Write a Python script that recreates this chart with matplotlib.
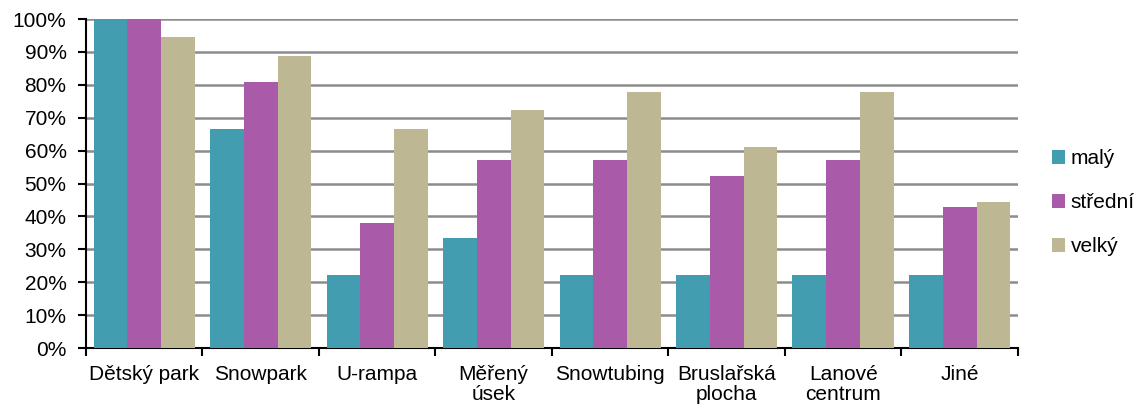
import numpy as np
import matplotlib
matplotlib.use("Agg")
import matplotlib.pyplot as plt
from matplotlib.ticker import PercentFormatter

# ==================== DATA ====================

categories = ["Dětský park", "Snowpark", "U-rampa", "Měřený\núsek", "Snowtubing",
              "Bruslařská\nplocha", "Lanové\ncentrum", "Jiné"]
series_names = ["malý", "střední", "velký"]
maly = [100.0, 66.7, 22.2, 33.3, 22.2, 22.2, 22.2, 22.2]
stredni = [100.0, 81.0, 38.1, 57.1, 57.1, 52.4, 57.1, 42.9]
velky = [94.4, 88.9, 66.7, 72.2, 77.8, 61.1, 77.8, 44.4]
colors = ["#419daf", "#a95aa8", "#bdb794"]

# ==================== PLOT ====================

plt.rcParams['font.family'] = ['Liberation Sans', 'DejaVu Sans']
fs = 15

fig = plt.figure(figsize=(11.42, 4.09), dpi=100)
ax = fig.add_axes([0.0753, 0.149, 0.816, 0.8045])

x = np.arange(len(categories))
w = 0.29
for i, (vals, name) in enumerate(zip([maly, stredni, velky], series_names)):
    ax.bar(x + (i - 1) * w, vals, w, color=colors[i], label=name, zorder=3)

ax.set_xlim(-0.5, len(categories) - 0.5)
ax.set_ylim(0, 100)
ax.set_yticks(np.arange(0, 101, 10))
ax.yaxis.set_major_formatter(PercentFormatter(decimals=0))
ax.yaxis.grid(True, color="#8c8c8c", linewidth=1.8, zorder=0)

# category ticks sit between the groups
ax.set_xticks(np.arange(-0.5, len(categories), 1))
ax.set_xticklabels([])
ax.set_xticks(x, minor=True)
ax.set_xticklabels(categories, minor=True, fontsize=fs, linespacing=1.1)
ax.tick_params(axis="x", which="minor", length=0, pad=12)
ax.tick_params(axis="x", which="major", length=6, width=1.5, direction="out")
ax.tick_params(axis="y", length=6, width=1.5, labelsize=fs, pad=8)

for side in ["top", "right"]:
    ax.spines[side].set_visible(False)
ax.spines["left"].set_linewidth(1.5)
ax.spines["bottom"].set_linewidth(1.5)

fig.legend(loc="center left", bbox_to_anchor=(0.921, 0.504), frameon=False,
           fontsize=fs, handlelength=0.65, handleheight=0.65, handletextpad=0.25,
           labelspacing=1.2, borderpad=0, borderaxespad=0)

fig.savefig("out.png", dpi=100)
